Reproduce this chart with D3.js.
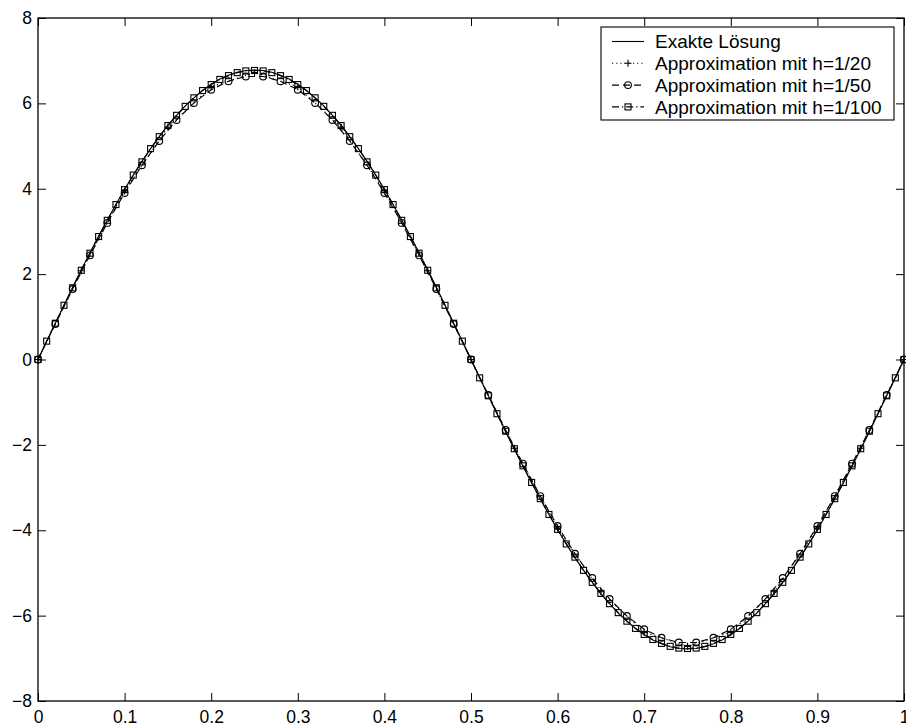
<!DOCTYPE html>
<html>
<head>
<meta charset="utf-8">
<script src="https://cdn.jsdelivr.net/npm/d3@7"></script>
<style>
  body { margin: 0; background: #fff; }
  text { font-family: "Liberation Sans", Arial, sans-serif; }
</style>
</head>
<body>
<svg id="chart" width="906" height="726"></svg>
<script>
// values (x step 0.01 / 0.02 / 0.05)
const exact = [
  0, 0.43, 0.85, 1.27, 1.69, 2.10, 2.50, 2.89, 3.27, 3.63, 3.99, 4.32, 4.64, 4.94, 5.22, 5.49, 5.72, 5.94, 6.13, 6.30, 6.45, 6.57, 6.66, 6.73, 6.77, 6.78,
  6.77, 6.73, 6.66, 6.57, 6.45, 6.30, 6.13, 5.94, 5.72, 5.49, 5.22, 4.94, 4.64, 4.32, 3.99, 3.63, 3.27, 2.89, 2.50, 2.10, 1.69, 1.27, 0.85, 0.43, 0,
  -0.43, -0.85, -1.27, -1.69, -2.10, -2.50, -2.89, -3.27, -3.63, -3.99, -4.32, -4.64, -4.94, -5.22, -5.49, -5.72, -5.94, -6.13, -6.30, -6.45, -6.57, -6.66, -6.73, -6.77, -6.78,
  -6.77, -6.73, -6.66, -6.57, -6.45, -6.30, -6.13, -5.94, -5.72, -5.49, -5.22, -4.94, -4.64, -4.32, -3.99, -3.63, -3.27, -2.89, -2.50, -2.10, -1.69, -1.27, -0.85, -0.43, 0
];
const h20 = [
  0, 2.08, 3.95, 5.44, 6.39, 6.72, 6.39, 5.44, 3.95, 2.08, 0,
  -2.08, -3.95, -5.44, -6.39, -6.72, -6.39, -5.44, -3.95, -2.08, 0
];
const h50 = [
  0, 0.83, 1.65, 2.44, 3.20, 3.90, 4.55, 5.12, 5.61, 6.01, 6.32, 6.52, 6.63,
  6.63, 6.52, 6.32, 6.01, 5.61, 5.12, 4.55, 3.90, 3.20, 2.44, 1.65, 0.83, 0,
  -0.83, -1.65, -2.44, -3.20, -3.90, -4.55, -5.12, -5.61, -6.01, -6.32, -6.52, -6.63,
  -6.63, -6.52, -6.32, -6.01, -5.61, -5.12, -4.55, -3.90, -3.20, -2.44, -1.65, -0.83, 0
];
const h100 = [
  0, 0.43, 0.85, 1.27, 1.68, 2.09, 2.49, 2.88, 3.26, 3.63, 3.98, 4.32, 4.63, 4.94, 5.22, 5.48, 5.72, 5.93, 6.13, 6.30, 6.44, 6.56, 6.65, 6.72, 6.76, 6.77,
  6.76, 6.72, 6.65, 6.56, 6.44, 6.30, 6.13, 5.93, 5.72, 5.48, 5.22, 4.94, 4.63, 4.32, 3.98, 3.63, 3.26, 2.88, 2.49, 2.09, 1.68, 1.27, 0.85, 0.43, 0,
  -0.43, -0.85, -1.27, -1.68, -2.09, -2.49, -2.88, -3.26, -3.63, -3.98, -4.32, -4.63, -4.94, -5.22, -5.48, -5.72, -5.93, -6.13, -6.30, -6.44, -6.56, -6.65, -6.72, -6.76, -6.77,
  -6.76, -6.72, -6.65, -6.56, -6.44, -6.30, -6.13, -5.93, -5.72, -5.48, -5.22, -4.94, -4.63, -4.32, -3.98, -3.63, -3.26, -2.88, -2.49, -2.09, -1.68, -1.27, -0.85, -0.43, 0
];
const xTicks = [0, 0.1, 0.2, 0.3, 0.4, 0.5, 0.6, 0.7, 0.8, 0.9, 1];
const yTicks = [-8, -6, -4, -2, 0, 2, 4, 6, 8];
const legendLabels = ["Exakte Lösung", "Approximation mit h=1/20", "Approximation mit h=1/50", "Approximation mit h=1/100"];

const svg = d3.select("#chart");
const plotL = 38, plotR = 904, plotT = 18, plotB = 701;

const x = d3.scaleLinear().domain([0, 1]).range([plotL, plotR]);
const y = d3.scaleLinear().domain([-8, 8]).range([plotB, plotT]);

const fmt = d => (d < 0 ? "\u2212" + Math.abs(d) : String(d));

function styleAxis(g) {
  g.select(".domain").remove();
  g.selectAll("line").attr("stroke", "#000").attr("stroke-width", 1);
  g.selectAll("text").attr("font-size", 17.5).attr("fill", "#000")
    .style("font-family", '"Liberation Sans", Arial, sans-serif');
}

svg.append("g").attr("transform", `translate(0,${plotB})`)
  .call(d3.axisBottom(x).tickValues(xTicks).tickFormat(d => String(d)).tickSize(-8).tickPadding(10))
  .call(styleAxis);
svg.append("g").attr("transform", `translate(0,${plotT})`)
  .call(d3.axisTop(x).tickValues(xTicks).tickFormat("").tickSize(-8))
  .call(styleAxis);
svg.append("g").attr("transform", `translate(${plotL},0)`)
  .call(d3.axisLeft(y).tickValues(yTicks).tickFormat(fmt).tickSize(-8).tickPadding(6))
  .call(styleAxis);
svg.append("g").attr("transform", `translate(${plotR},0)`)
  .call(d3.axisRight(y).tickValues(yTicks).tickFormat("").tickSize(-8))
  .call(styleAxis);

// series
const series = [
  { vals: exact, dash: null, marker: null },
  { vals: h20, dash: "1.2,3", marker: "plus" },
  { vals: h50, dash: "7,4", marker: "circle" },
  { vals: h100, dash: "7,3,1.2,3", marker: "square" }
];

function drawMarker(g, type, cx, cy) {
  if (type === "circle") {
    g.append("circle").attr("cx", cx).attr("cy", cy).attr("r", 3.4)
      .attr("fill", "none").attr("stroke", "#000").attr("stroke-width", 1.1);
  } else if (type === "square") {
    g.append("rect").attr("x", cx - 3).attr("y", cy - 3).attr("width", 6).attr("height", 6)
      .attr("fill", "none").attr("stroke", "#000").attr("stroke-width", 1.1);
  } else if (type === "plus") {
    g.append("path").attr("d", `M${cx - 3.5},${cy}H${cx + 3.5}M${cx},${cy - 3.5}V${cy + 3.5}`)
      .attr("stroke", "#000").attr("stroke-width", 1.1);
  }
}

const line = d3.line().x(d => x(d[0])).y(d => y(d[1]));

series.forEach(s => {
  const n = s.vals.length - 1;
  const pts = s.vals.map((v, i) => [i / n, v]);
  const g = svg.append("g");
  g.append("path").datum(pts).attr("d", line)
    .attr("fill", "none").attr("stroke", "#000").attr("stroke-width", 1.15)
    .attr("stroke-dasharray", s.dash);
  if (s.marker) pts.forEach(p => drawMarker(g, s.marker, x(p[0]), y(p[1])));
});

// frame
svg.append("rect").attr("x", plotL).attr("y", plotT)
  .attr("width", plotR - plotL).attr("height", plotB - plotT)
  .attr("fill", "none").attr("stroke", "#000").attr("stroke-width", 1.3);

// legend
const lg = svg.append("g");
lg.append("rect").attr("x", 601).attr("y", 27).attr("width", 293).attr("height", 93)
  .attr("fill", "#fff").attr("stroke", "#000").attr("stroke-width", 1.1);
legendLabels.forEach((lab, i) => {
  const ly = 41.5 + i * 21.8;
  const s = series[i];
  lg.append("line").attr("x1", 612).attr("x2", 644).attr("y1", ly).attr("y2", ly)
    .attr("stroke", "#000").attr("stroke-width", 1.1).attr("stroke-dasharray", s.dash);
  if (s.marker) drawMarker(lg, s.marker, 628, ly);
  lg.append("text").attr("x", 655).attr("y", ly).attr("dy", "0.36em")
    .attr("font-size", 19).attr("fill", "#000").text(lab);
});
</script>
</body>
</html>
